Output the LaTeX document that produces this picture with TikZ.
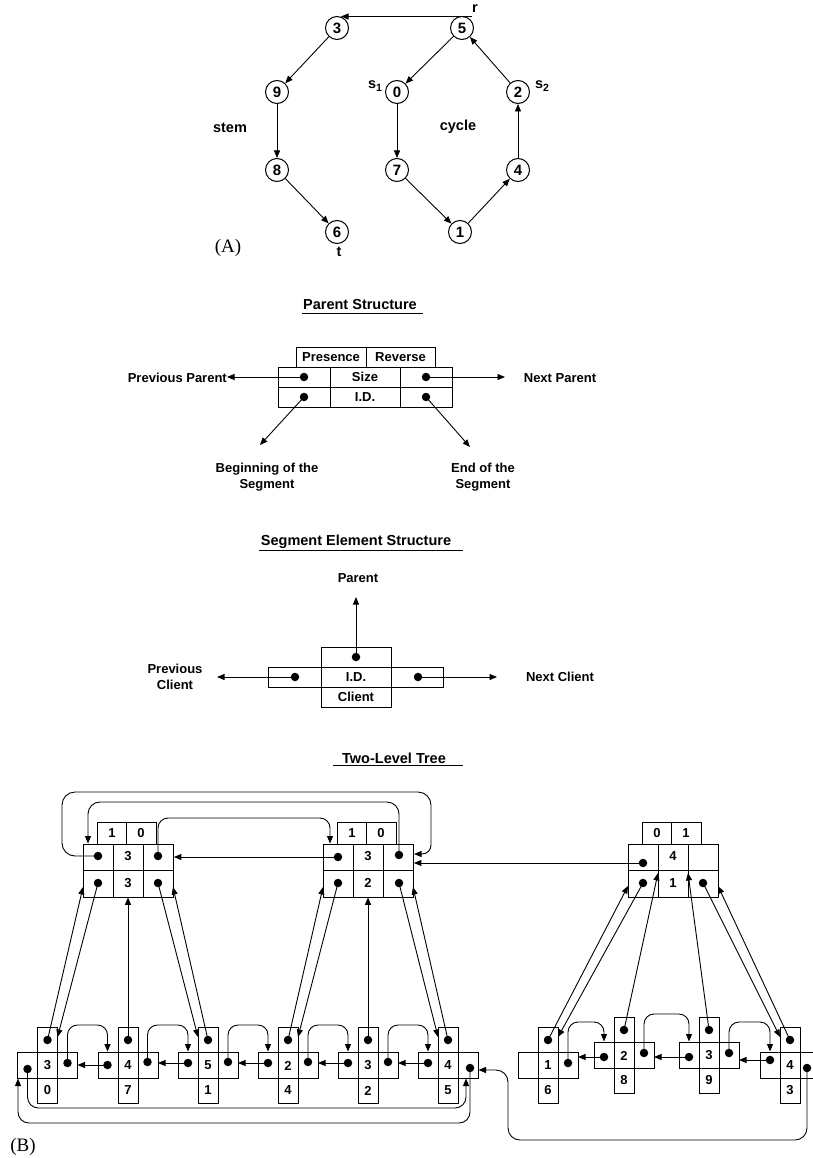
\documentclass[tikz,border=0pt]{standalone}
\usepackage{fontspec}
\setmainfont{Liberation Sans}
\newfontfamily\serifA{Liberation Serif}
\usetikzlibrary{arrows.meta}
\newcommand\TPbox[7]{%
 \begin{scope}[shift={(#2,#3)}]
  \node[draw, line width=0.9pt, minimum width=90pt, minimum height=53pt, anchor=north west] (#1) at (0,0) {};
  \draw[box] (0,26.5) -- (90,26.5) (30,0) -- (30,53) (60,0) -- (60,53);
  \draw[box] (14,-22) rectangle (73,0) (43.5,-22) -- (43.5,0);
  \node at (29,-11) {#4}; \node at (58,-11) {#5};
  \node at (45,12) {#6}; \node at (45,39) {#7};
 \end{scope}}
\newcommand\SegEl[5]{%
 \begin{scope}[shift={(#2,#3)}]
  \coordinate (#1) at (0,0);
  \draw[box] (-10,0) rectangle (10,76);
  \draw[box] (-30,25) rectangle (30,51);
  \node at (0,38.5) {#4}; \node at (0,63.5) {#5};
 \end{scope}}
\begin{document}
\begin{tikzpicture}[x=1pt,y=-1pt,
  every node/.style={inner sep=0pt, font=\bfseries\fontsize{13}{15.5}\selectfont},
  box/.style={line width=0.9pt},
  arr/.style={line width=0.9pt, -{Triangle[length=7.5pt,width=6pt]}},
  dot/.style={circle, fill=black, inner sep=0pt, minimum size=8.5pt},
  ttl/.style={font=\bfseries\fontsize{14.5}{17}\selectfont},
  vtx/.style={circle, draw, line width=1pt, minimum size=23pt, inner sep=0pt, font=\bfseries\fontsize{15}{16}\selectfont},
  alab/.style={font=\bfseries\fontsize{14.5}{16}\selectfont},
  plab/.style={font=\serifA\fontsize{19}{21}\selectfont}]
\useasboundingbox (0,0) rectangle (812,1158);
% ---------------- (A)
\node[vtx] (n3) at (337,28) {3};
\node[vtx] (n5) at (462,28) {5};
\node[vtx] (n9) at (277,92) {9};
\node[vtx] (n0) at (397,92) {0};
\node[vtx] (n2) at (518,92) {2};
\node[vtx] (n8) at (277,170) {8};
\node[vtx] (n7) at (397,170) {7};
\node[vtx] (n4) at (518,170) {4};
\node[vtx] (n6) at (337,232) {6};
\node[vtx] (n1) at (460,232) {1};
\coordinate (rtop) at (472,16.5);
\coordinate (n3in) at (341,16.5);
\draw[arr] (rtop) -- (n3in);
\draw[arr] (n3) -- (n9);
\draw[arr] (n9) -- (n8);
\draw[arr] (n8) -- (n6);
\draw[arr] (n5) -- (n0);
\draw[arr] (n0) -- (n7);
\draw[arr] (n7) -- (n1);
\draw[arr] (n1) -- (n4);
\draw[arr] (n4) -- (n2);
\draw[arr] (n2) -- (n5);
\node[alab] (lr) at (475,9) {r};
\node[alab] (ls1) at (375,86) {s\raisebox{-0.45ex}{\fontsize{10.5}{10}\selectfont 1}};
\node[alab] (ls2) at (542,86) {s\raisebox{-0.45ex}{\fontsize{10.5}{10}\selectfont 2}};
\node[alab] (lstem) at (230,128) {stem};
\node[alab] (lcycle) at (458,127) {cycle};
\node[alab] (lt) at (339,252) {t};
\node[plab] (lA) at (228,248) {(A)};
% ---------------- Parent Structure
\node[ttl] (t1) at (360,305) {Parent Structure};
\draw[box] (302,313.5) -- (423,313.5);
\draw[box] (296,347) rectangle (435,367) (366,347) -- (366,367);
\node (pres) at (331,357) {Presence};
\node (rev) at (400.5,357) {Reverse};
\node[draw, line width=0.9pt, minimum width=174pt, minimum height=40pt] (ps) at (365,387) {};
\draw[box] (278,387) -- (452,387) (330,367) -- (330,407) (400,367) -- (400,407);
\node (size) at (365,377) {Size};
\node (idd) at (365,397) {I.D.};
\node[dot] (d1) at (304,377) {};
\node[dot] (d2) at (304,397) {};
\node[dot] (d3) at (426,377) {};
\node[dot] (d4) at (426,397) {};
\node[anchor=east] (prevp) at (227,378) {Previous Parent};
\node (nextp) at (560,378) {Next Parent};
\coordinate (nextpin) at (505,377);
\draw[arr] (d1.center) -- (prevp.east |- d1);
\draw[arr] (d3.center) -- (nextpin);
\coordinate (begin) at (260,445);
\coordinate (endd) at (470,447);
\draw[arr] (d2.center) -- (begin);
\draw[arr] (d4.center) -- (endd);
\node[align=center] (lbeg) at (267,477) {Beginning of the\\Segment};
\node[align=center] (lend) at (483,477) {End of the\\Segment};
% ---------------- Segment Element Structure
\node[ttl] (t2) at (356,542) {Segment Element Structure};
\draw[box] (259,550.5) -- (463,550.5);
\node (lpar) at (358,578) {Parent};
\draw[box] (321,647) rectangle (391,707);
\draw[box] (268,667) rectangle (443,687);
\draw[box] (321,667) -- (321,687) (391,667) -- (391,687);
\node[dot] (s1) at (356,657) {};
\node[dot] (s2) at (295,677) {};
\node[dot] (s3) at (418,677) {};
\node (sid) at (356,677) {I.D.};
\node (scl) at (356,697) {Client};
\coordinate (sp) at (356,597);
\coordinate (sl) at (217,677);
\coordinate (sr) at (497,677);
\draw[arr] (s1.center) -- (sp);
\draw[arr] (s2.center) -- (sl);
\draw[arr] (s3.center) -- (sr);
\node[align=center] (lprevc) at (175,677) {Previous\\Client};
\node (lnextc) at (560,677) {Next Client};
% ---------------- Two-Level Tree
\node[ttl] (t3) at (394,758) {Two-Level Tree};
\draw[box] (333,765.5) -- (463,765.5);
\TPbox{P1}{83}{844}{1}{0}{3}{3}
\TPbox{P2}{323}{844}{1}{0}{3}{2}
\TPbox{P3}{628}{844}{0}{1}{4}{1}
\node[dot] (p1tl) at (98,856) {};
\node[dot] (p1tr) at (158,856) {};
\node[dot] (p1bl) at (98,883) {};
\node[dot] (p1br) at (158,883) {};
\node[dot] (p2tl) at (338,857) {};
\node[dot] (p2tr) at (399,855) {};
\node[dot] (p2bl) at (338,883) {};
\node[dot] (p2br) at (399,883) {};
\node[dot] (p3tl) at (643,863) {};
\node[dot] (p3bl) at (643,883) {};
\node[dot] (p3br) at (703,883) {};
% parent links
\draw[arr] (p2tl.center) -- (P1.east |- p2tl);
\draw[arr] (p3tl.center) -- (P2.east |- p3tl);
\coordinate (p2in) at (414,854);
\draw[arr, rounded corners=13pt] (p1tl.center) -- (62,856) -- (62,792) -- (431,792) [rounded corners=9pt] -- (431,854) -- (p2in);
\coordinate (p1in) at (88,843.5);
\draw[arr, rounded corners=12pt] (p2tr.center) -- (399,802) -- (88,802) -- (p1in);
\coordinate (p2in2) at (330,843.5);
\draw[arr, rounded corners=10pt] (p1tr.center) -- (158,818) -- (330,818) -- (p2in2);
% segment elements
\SegEl{E1}{47.5}{1027}{3}{0}
\SegEl{E2}{128}{1027}{4}{7}
\SegEl{E3}{208}{1027}{5}{1}
\SegEl{E4}{288}{1027}{2}{4}
\SegEl{E5}{368}{1027}{3}{2}
\SegEl{E6}{448}{1027}{4}{5}
\SegEl{E7}{548}{1027}{1}{6}
\SegEl{E8}{624}{1017}{2}{8}
\SegEl{E9}{709}{1017}{3}{9}
\SegEl{E10}{790}{1027}{4}{3}
% element dots
\node[dot] (e1t) at (47.5,1040) {};
\node[dot] (e1l) at (27.5,1069) {};
\node[dot] (e1r) at (67.5,1063) {};
\node[dot] (e2t) at (128,1040) {};
\node[dot] (e2l) at (107.5,1065) {};
\node[dot] (e2r) at (147.5,1062) {};
\node[dot] (e3t) at (208,1040) {};
\node[dot] (e3l) at (188,1063) {};
\node[dot] (e3r) at (228,1062) {};
\node[dot] (e4t) at (288,1040) {};
\node[dot] (e4l) at (268,1063) {};
\node[dot] (e4r) at (308,1062) {};
\node[dot] (e5t) at (368,1040) {};
\node[dot] (e5l) at (348,1063) {};
\node[dot] (e5r) at (388,1062) {};
\node[dot] (e6t) at (448,1040) {};
\node[dot] (e6l) at (428,1063) {};
\node[dot] (e6r) at (470,1068) {};
\node[dot] (e7t) at (548,1040) {};
\node[dot] (e7r) at (568,1063) {};
\node[dot] (e8t) at (624,1030) {};
\node[dot] (e8l) at (604,1057) {};
\node[dot] (e8r) at (644,1053) {};
\node[dot] (e9t) at (709,1030) {};
\node[dot] (e9l) at (689,1057) {};
\node[dot] (e9r) at (729,1053) {};
\node[dot] (e10t) at (790,1040) {};
\node[dot] (e10l) at (770,1060) {};
\node[dot] (e10r) at (807,1068) {};
% element -> parent links
\draw[arr] (e1t.center) -- (83,887);
\draw[arr] (p1bl.center) -- (57.5,1037);
\draw[arr] (e2t.center) -- (128,897.4);
\draw[arr] (p1br.center) -- (198,1037);
\draw[arr] (e3t.center) -- (173,887);
\draw[arr] (e4t.center) -- (323,887);
\draw[arr] (p2bl.center) -- (298,1037);
\draw[arr] (e5t.center) -- (368,897.4);
\draw[arr] (p2br.center) -- (438,1037);
\draw[arr] (e6t.center) -- (413,887);
\draw[arr] (e7t.center) -- (628,886);
\draw[arr] (p3bl.center) -- (558,1037);
\draw[arr] (e8t.center) -- (658,873);
\draw[arr] (e9t.center) -- (688,873);
\draw[arr] (p3br.center) -- (780,1037);
\draw[arr] (e10t.center) -- (718,886);
% prev links (straight)
\draw[arr] (e2l.center) -- (77.5,1065);
\draw[arr] (e3l.center) -- (158,1063);
\draw[arr] (e4l.center) -- (238,1063);
\draw[arr] (e5l.center) -- (318,1063);
\draw[arr] (e6l.center) -- (398,1063);
\draw[arr] (e8l.center) -- (578,1057);
\draw[arr] (e9l.center) -- (654,1057);
\draw[arr] (e10l.center) -- (739,1060);
% next links (arches)
\draw[arr, rounded corners=10pt] (e1r.center) -- (67.5,1025) -- (107.5,1025) -- (107.5,1051.5);
\draw[arr, rounded corners=10pt] (e2r.center) -- (147.5,1025) -- (188,1025) -- (188,1051.5);
\draw[arr, rounded corners=10pt] (e3r.center) -- (228,1025) -- (268,1025) -- (268,1051.5);
\draw[arr, rounded corners=10pt] (e4r.center) -- (308,1025) -- (348,1025) -- (348,1051.5);
\draw[arr, rounded corners=10pt] (e5r.center) -- (388,1025) -- (428,1025) -- (428,1051.5);
\draw[arr, rounded corners=10pt] (e7r.center) -- (568,1022) -- (604,1022) -- (604,1041.5);
\draw[arr, rounded corners=10pt] (e8r.center) -- (644,1014) -- (689,1014) -- (689,1041.5);
\draw[arr, rounded corners=10pt] (e9r.center) -- (729,1022) -- (770,1022) -- (770,1051.5);
% segment loops
\draw[arr, rounded corners=11pt] (e1l.center) -- (27.5,1108) -- (466,1108) -- (466,1078.5);
\draw[arr, rounded corners=11pt] (e6r.center) -- (470,1123) -- (18,1123) -- (18,1078.5);
\draw[arr, rounded corners=12pt] (e10r.center) -- (807,1140) -- (508,1140) -- (508,1070) -- (478.5,1070);
\node[plab] (lB) at (23,1147) {(B)};
\end{tikzpicture}
\end{document}
